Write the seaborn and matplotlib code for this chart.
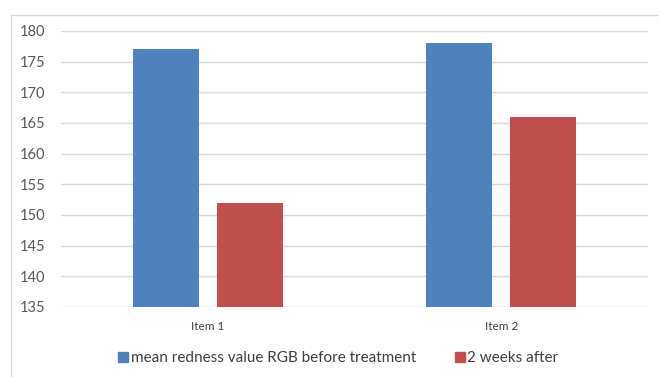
import matplotlib
matplotlib.use("Agg")
import matplotlib.pyplot as plt
from matplotlib.lines import Line2D
import seaborn as sns
import pandas as pd

# Chart data
items = ["Item 1", "Item 2"]
series = ["mean redness value RGB before treatment", "2 weeks after"]
before_values = [177, 178]
after_values = [152, 166]
colors = ["#4F81BD", "#C0504D"]
y_ticks = [135, 140, 145, 150, 155, 160, 165, 170, 175, 180]

df = pd.DataFrame({
    "item": items * 2,
    "series": [series[0]] * len(items) + [series[1]] * len(items),
    "value": before_values + after_values,
})

sns.set_theme(style="white")
plt.rcParams["font.family"] = ["Lato", "DejaVu Sans"]

W, H = 659, 377
fig = plt.figure(figsize=(W / 100, H / 100), dpi=100)
ax = fig.add_axes([61 / W, 1 - 307 / H, (648 - 61) / W, (307 - 31) / H])

sns.barplot(data=df, x="item", y="value", hue="series", order=items,
            hue_order=series, palette=colors, width=0.572, gap=0.213,
            saturation=1, ax=ax, legend=False, edgecolor="none")

ax.set_ylim(135, 180)
ax.set_xlim(-0.5, 1.5)
ax.set_yticks(y_ticks)
ax.set_yticklabels([str(t) for t in y_ticks])
for t in y_ticks:
    ax.axhline(t, color="#D9D9D9", lw=1, zorder=0)
for p in ax.patches:
    p.set_zorder(2)

ax.tick_params(axis="y", length=0, pad=11, labelsize=10.5, labelcolor="#595959")
ax.tick_params(axis="x", length=0, pad=10, labelsize=8.5, labelcolor="#404040")
ax.set_xlabel("")
ax.set_ylabel("")
for s in ax.spines.values():
    s.set_visible(False)

# Legend below the plot area
handles = [Line2D([0], [0], marker="s", linestyle="none", markersize=6.5,
                  markerfacecolor=c, markeredgecolor=c) for c in colors]
fig.legend(handles, series, loc="center", bbox_to_anchor=(338 / W, 1 - 358 / H),
           ncol=2, frameon=False, fontsize=11, labelcolor="#404040",
           handletextpad=0.15, columnspacing=2.5, handlelength=0.7)

# Chart border (top and left edges)
fig.add_artist(Line2D([11 / W, 1.0], [1 - 15 / H, 1 - 15 / H],
                      transform=fig.transFigure, color="#D9D9D9", lw=1))
fig.add_artist(Line2D([11 / W, 11 / W], [0, 1 - 15 / H],
                      transform=fig.transFigure, color="#D9D9D9", lw=1))

fig.savefig("out.png", dpi=100, facecolor="white")
